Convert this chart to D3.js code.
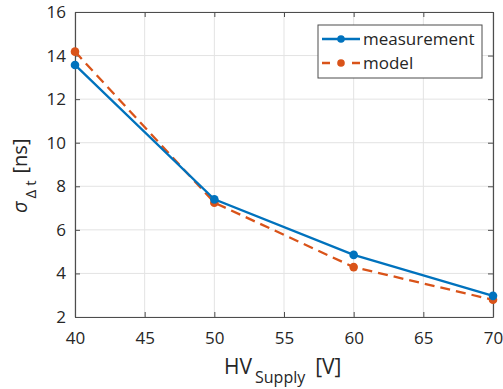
<!DOCTYPE html>
<html>
<head>
<meta charset="utf-8">
<script src="https://cdn.jsdelivr.net/npm/d3@7"></script>
<style>
  body { margin: 0; background: #fff; }
  text { font-family: "Open Sans", "DejaVu Sans", sans-serif; fill: #262626; }
</style>
</head>
<body>
<svg id="chart"></svg>
<script>
// data
const hvSupply = [40, 50, 60, 70];
const measurement = [13.57, 7.4, 4.85, 2.97];
const model = [14.18, 7.25, 4.29, 2.79];
const xTicks = [40, 45, 50, 55, 60, 65, 70];
const yTicks = [2, 4, 6, 8, 10, 12, 14, 16];

const width = 503, height = 389;
const margin = {top: 12, right: 10, bottom: 72, left: 75};
const w = width - margin.left - margin.right;
const h = height - margin.top - margin.bottom;

const svg = d3.select('#chart').attr('width', width).attr('height', height);
const chart = svg.append('g').attr('transform', `translate(${margin.left},${margin.top})`);

const x = d3.scaleLinear().domain([40, 70]).range([0, w]);
const y = d3.scaleLinear().domain([2, 16]).range([h, 0]);

// grid
chart.append('g').selectAll('line').data(xTicks).join('line')
  .attr('x1', d => x(d)).attr('x2', d => x(d)).attr('y1', 0).attr('y2', h)
  .attr('stroke', '#e3e3e3').attr('stroke-width', 1);
chart.append('g').selectAll('line').data(yTicks).join('line')
  .attr('y1', d => y(d)).attr('y2', d => y(d)).attr('x1', 0).attr('x2', w)
  .attr('stroke', '#e3e3e3').attr('stroke-width', 1);

// axes (ticks inward, full box)
const axisColor = '#4d4d4d';
function styleAxis(g) {
  g.select('.domain').attr('stroke', axisColor).attr('stroke-width', 1.2);
  g.selectAll('.tick line').attr('stroke', axisColor);
  g.selectAll('.tick text').attr('font-size', 17).attr('fill', '#262626')
    .attr('font-family', '"Open Sans", sans-serif');
}
chart.append('g').attr('transform', `translate(0,${h})`)
  .call(d3.axisBottom(x).tickValues(xTicks).tickSize(-5).tickSizeOuter(0).tickPadding(15))
  .call(styleAxis);
chart.append('g')
  .call(d3.axisLeft(y).tickValues(yTicks).tickSize(-5).tickSizeOuter(0).tickPadding(9))
  .call(styleAxis);
chart.append('g')
  .call(d3.axisTop(x).tickValues(xTicks).tickSize(-5).tickSizeOuter(0).tickFormat(''))
  .call(styleAxis);
chart.append('g').attr('transform', `translate(${w},0)`)
  .call(d3.axisRight(y).tickValues(yTicks).tickSize(-5).tickSizeOuter(0).tickFormat(''))
  .call(styleAxis);

// series
const series = [
  {name: 'measurement', values: measurement, color: '#0072BD', dash: null},
  {name: 'model', values: model, color: '#D95319', dash: '10,6'}
];
const line = d3.line().x((d, i) => x(hvSupply[i])).y(d => y(d));

series.slice().reverse().forEach(s => {
  chart.append('path').datum(s.values)
    .attr('d', line).attr('fill', 'none')
    .attr('stroke', s.color).attr('stroke-width', 2.3)
    .attr('stroke-dasharray', s.dash);
  chart.append('g').selectAll('circle').data(s.values).join('circle')
    .attr('cx', (d, i) => x(hvSupply[i])).attr('cy', d => y(d))
    .attr('r', 4.3).attr('fill', s.color);
});

// legend
const legend = svg.append('g').attr('transform', 'translate(318,25)');
legend.append('rect').attr('width', 164).attr('height', 53)
  .attr('fill', '#fff').attr('stroke', axisColor).attr('stroke-width', 1);
series.forEach((s, i) => {
  const ly = 14 + i * 24;
  legend.append('line').attr('x1', 4).attr('x2', 42).attr('y1', ly).attr('y2', ly)
    .attr('stroke', s.color).attr('stroke-width', 2.3).attr('stroke-dasharray', s.dash ? '8,22' : null);
  legend.append('circle').attr('cx', 23).attr('cy', ly).attr('r', 3.8).attr('fill', s.color);
  legend.append('text').attr('x', 45).attr('y', ly + 6).attr('font-size', 17).text(s.name);
});

// axis labels
const xl = svg.append('text').attr('x', 224).attr('y', 374).attr('font-size', 21);
xl.append('tspan').text('HV');
xl.append('tspan').attr('dy', 9).attr('font-size', 16).attr('dx', 3).text('Supply');
xl.append('tspan').attr('dy', -9).attr('dx', 10).text('[V]');

const yl = svg.append('text')
  .attr('transform', 'translate(27,213) rotate(-90)')
  .attr('font-size', 20);
yl.append('tspan').attr('font-style', 'italic').text('σ');
yl.append('tspan').attr('dy', 9).attr('font-size', 15).attr('dx', 3).text('Δ t');
yl.append('tspan').attr('dy', -9).attr('dx', 7).text('[ns]');
</script>
</body>
</html>
